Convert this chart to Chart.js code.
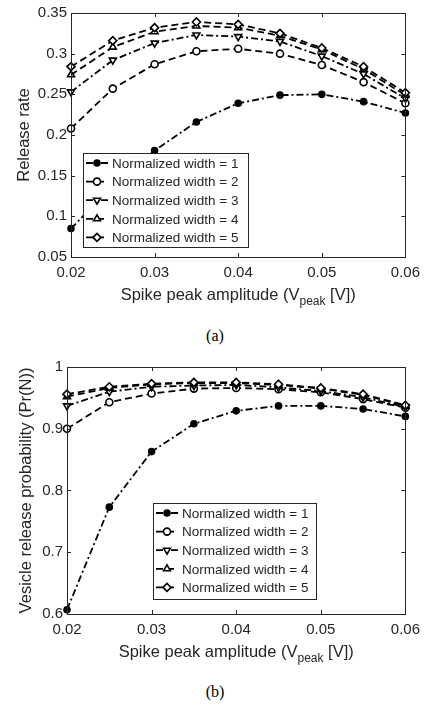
<!DOCTYPE html>
<html>
<head>
<meta charset="utf-8">
<script src="https://cdn.jsdelivr.net/npm/chart.js@4.4.1/dist/chart.umd.min.js"></script>
<style>
    body { margin: 0; width: 427px; height: 710px; background: #fff; position: relative; overflow: hidden; }
    .panel { position: absolute; left: 0; width: 427px; }
    #panelA { top: 0; height: 320px; }
    #panelB { top: 340px; height: 330px; }
    .caption { position: absolute; left: 0; width: 430px; text-align: center; font-family: "Liberation Serif", "Times New Roman", serif; font-size: 16px; color: #000; }
</style>
</head>
<body>
<div class="panel" id="panelA"><canvas id="chartRelease"></canvas></div>
<div class="caption" style="top:327px">(a)</div>
<div class="panel" id="panelB"><canvas id="chartProb"></canvas></div>
<div class="caption" style="top:683px">(b)</div>
<script>
// data
const amplitudes = [0.02, 0.025, 0.03, 0.035, 0.04, 0.045, 0.05, 0.055, 0.06];
const seriesNames = ['Normalized width = 1', 'Normalized width = 2', 'Normalized width = 3', 'Normalized width = 4', 'Normalized width = 5'];

const releaseW1 = [0.085, 0.138, 0.181, 0.216, 0.239, 0.249, 0.250, 0.241, 0.227];
const releaseW2 = [0.208, 0.257, 0.287, 0.303, 0.306, 0.300, 0.286, 0.265, 0.239];
const releaseW3 = [0.253, 0.292, 0.313, 0.323, 0.321, 0.315, 0.297, 0.275, 0.245];
const releaseW4 = [0.274, 0.308, 0.327, 0.334, 0.332, 0.322, 0.305, 0.281, 0.249];
const releaseW5 = [0.284, 0.316, 0.332, 0.339, 0.336, 0.325, 0.307, 0.284, 0.252];

const probW1 = [0.607, 0.773, 0.863, 0.908, 0.929, 0.937, 0.937, 0.932, 0.920];
const probW2 = [0.900, 0.943, 0.957, 0.965, 0.966, 0.964, 0.959, 0.948, 0.934];
const probW3 = [0.937, 0.960, 0.968, 0.970, 0.971, 0.967, 0.961, 0.951, 0.935];
const probW4 = [0.952, 0.966, 0.972, 0.974, 0.974, 0.971, 0.965, 0.955, 0.937];
const probW5 = [0.956, 0.968, 0.973, 0.975, 0.975, 0.972, 0.966, 0.956, 0.938];

const xTicks = { min: 0.02, max: 0.06, step: 0.01 };
const releaseTicks = { min: 0.05, max: 0.35, step: 0.05 };
const probTicks = { min: 0.6, max: 1, step: 0.1 };

const FONT = '"Liberation Sans", Arial, sans-serif';
const AXIS = '#262626';

// line/marker look per series (matlab style)
const looks = [
    { dash: [7, 3, 2, 3], point: 'circle', fill: '#000', rot: 0, r: 3 },
    { dash: [7, 4], point: 'circle', fill: '#fff', rot: 0, r: 3.5 },
    { dash: [7, 3, 2, 3], point: 'triangle', fill: '#fff', rot: 180, r: 4 },
    { dash: [7, 4], point: 'triangle', fill: '#fff', rot: 0, r: 4 },
    { dash: [7, 4], point: 'rectRot', fill: '#fff', rot: 0, r: 4 }
];

function fmt(v) {
    return String(Math.round(v * 100) / 100);
}

// box, inward ticks, legend and x title with subscript
const matlabAxes = {
    id: 'matlabAxes',
    afterDatasetsDraw(chart, args, opts) {
        const ctx = chart.ctx;
        const a = chart.chartArea;
        const xs = chart.scales.x, ys = chart.scales.y;
        ctx.save();
        ctx.setLineDash([]);
        ctx.strokeStyle = AXIS;
        ctx.lineWidth = 1;
        ctx.strokeRect(Math.round(a.left) + 0.5, Math.round(a.top) + 0.5, Math.round(a.width), Math.round(a.height));
        ctx.beginPath();
        xs.ticks.forEach(t => {
            const px = Math.round(xs.getPixelForValue(t.value)) + 0.5;
            ctx.moveTo(px, a.bottom); ctx.lineTo(px, a.bottom - 4);
            ctx.moveTo(px, a.top); ctx.lineTo(px, a.top + 4);
        });
        ys.ticks.forEach(t => {
            const py = Math.round(ys.getPixelForValue(t.value)) + 0.5;
            ctx.moveTo(a.left, py); ctx.lineTo(a.left + 4, py);
            ctx.moveTo(a.right, py); ctx.lineTo(a.right - 4, py);
        });
        ctx.stroke();

        // legend
        const lg = opts.legend;
        const bx = Math.round(a.left + lg.left), by = Math.round(a.bottom - lg.bottom - lg.height);
        ctx.fillStyle = '#fff';
        ctx.fillRect(bx, by, lg.width, lg.height);
        ctx.strokeRect(bx + 0.5, by + 0.5, lg.width, lg.height);
        ctx.font = '13.5px ' + FONT;
        ctx.textBaseline = 'middle';
        ctx.textAlign = 'left';
        chart.data.datasets.forEach((ds, i) => {
            const y = by + 10 + i * 18.6;
            ctx.strokeStyle = '#000';
            ctx.lineWidth = ds.borderWidth;
            ctx.setLineDash(ds.borderDash);
            ctx.beginPath();
            ctx.moveTo(bx + 3, y); ctx.lineTo(bx + 25, y);
            ctx.stroke();
            ctx.setLineDash([]);
            ctx.fillStyle = ds.pointBackgroundColor;
            ctx.lineWidth = ds.pointBorderWidth;
            Chart.helpers.drawPoint(ctx, {
                pointStyle: ds.pointStyle, rotation: ds.pointRotation,
                radius: ds.pointRadius, borderWidth: ds.pointBorderWidth
            }, bx + 14, y);
            ctx.fillStyle = AXIS;
            ctx.fillText(ds.label, bx + 29, y + 1);
        });

        // x title: Spike peak amplitude (V_peak [V])
        const t = opts.xTitle;
        ctx.fillStyle = AXIS;
        ctx.font = '16.5px ' + FONT;
        const w1 = ctx.measureText(t.main).width;
        const w3 = ctx.measureText(t.tail).width;
        ctx.font = '12px ' + FONT;
        const w2 = ctx.measureText(t.sub).width;
        let x = (a.left + a.right) / 2 - (w1 + w2 + w3) / 2;
        const y = a.bottom + 38;
        ctx.font = '16.5px ' + FONT;
        ctx.fillText(t.main, x, y);
        x += w1;
        ctx.font = '12px ' + FONT;
        ctx.fillText(t.sub, x, y + 7);
        x += w2;
        ctx.font = '16.5px ' + FONT;
        ctx.fillText(t.tail, x, y);
        ctx.restore();
    }
};

function makeChart(canvasId, seriesList, yRange, yTitle, geo) {
    const datasets = seriesList.map((vals, i) => ({
        label: seriesNames[i],
        data: amplitudes.map((x, k) => ({ x: x, y: vals[k] })),
        borderColor: '#000',
        borderWidth: 1.8,
        borderDash: looks[i].dash,
        pointStyle: looks[i].point,
        pointRotation: looks[i].rot,
        pointRadius: looks[i].r,
        pointBorderWidth: 1.6,
        pointBorderColor: '#000',
        pointBackgroundColor: looks[i].fill,
        fill: false,
        tension: 0,
        clip: false,
        order: seriesList.length - i
    }));

    return new Chart(document.getElementById(canvasId), {
        type: 'line',
        data: { datasets: datasets },
        options: {
            responsive: true,
            maintainAspectRatio: false,
            animation: false,
            layout: { padding: { top: geo.top, right: geo.right, left: 0, bottom: 0 } },
            plugins: {
                legend: { display: false },
                tooltip: { enabled: false },
                matlabAxes: {
                    legend: geo.legend,
                    xTitle: { main: 'Spike peak amplitude (V', sub: 'peak', tail: ' [V])' }
                }
            },
            scales: {
                x: {
                    type: 'linear',
                    min: xTicks.min,
                    max: xTicks.max,
                    grid: { display: false, drawTicks: false },
                    border: { display: false },
                    ticks: {
                        stepSize: xTicks.step,
                        padding: 7,
                        color: AXIS,
                        font: { family: FONT, size: 15 },
                        callback: fmt,
                        maxRotation: 0
                    },
                    afterFit: s => { s.height = geo.xHeight; }
                },
                y: {
                    min: yRange.min,
                    max: yRange.max,
                    grid: { display: false, drawTicks: false },
                    border: { display: false },
                    ticks: {
                        stepSize: yRange.step,
                        padding: 4,
                        color: AXIS,
                        font: { family: FONT, size: 15 },
                        callback: fmt
                    },
                    title: {
                        display: true,
                        text: yTitle,
                        color: AXIS,
                        font: { family: FONT, size: 16.5 },
                        padding: { top: geo.titlePad, bottom: 0 }
                    },
                    afterFit: s => { s.width = geo.yWidth; }
                }
            }
        },
        plugins: [matlabAxes]
    });
}

makeChart('chartRelease', [releaseW1, releaseW2, releaseW3, releaseW4, releaseW5], releaseTicks, 'Release rate', {
    top: 8, right: 20, xHeight: 63, yWidth: 71, titlePad: 15,
    legend: { left: 12, bottom: 10, width: 165, height: 94 }
});

makeChart('chartProb', [probW1, probW2, probW3, probW4, probW5], probTicks, 'Vesicle release probability (Pr(N))', {
    top: 27, right: 21, xHeight: 56, yWidth: 67, titlePad: 17,
    legend: { left: 86, bottom: 15, width: 163, height: 96 }
});
</script>
</body>
</html>
